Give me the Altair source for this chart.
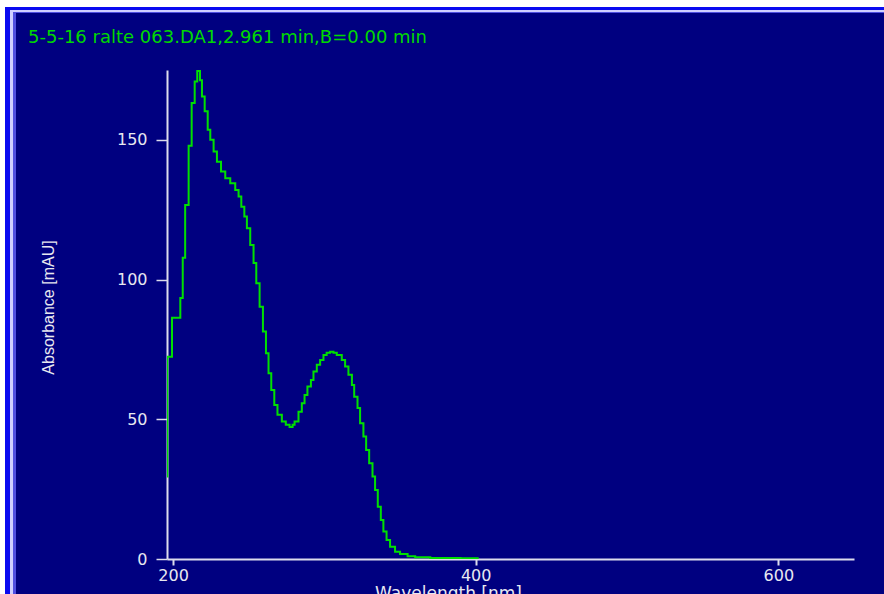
import altair as alt
import pandas as pd

# UV-Vis spectrum of the peak at 2.961 min (DAD), absorbance in mAU
wavelength_nm = [
    196.0, 196.2, 199.3, 204.8, 206.4, 208.0, 210.3, 212.3, 214.3, 216.0,
    217.8, 219.1, 220.9, 222.9, 224.6, 226.8, 229.0, 231.7, 234.5, 237.8,
    241.1, 243.3, 245.1, 247.1, 248.8, 251.0, 253.2, 255.0, 257.2, 259.4,
    261.4, 263.1, 264.9, 266.9, 269.0, 271.9, 274.5, 277.0, 279.0, 280.3,
    282.9, 285.1, 286.9, 288.8, 291.1, 292.8, 295.0, 297.2, 299.4, 301.5,
    303.8, 306.0, 308.2, 311.5, 313.7, 315.9, 318.2, 319.7, 321.9, 323.6,
    325.8, 327.6, 329.6, 331.8, 333.5, 335.3, 337.3, 339.0, 341.1, 343.4,
    346.7, 350.0, 355.0, 360.0, 370.0, 380.0, 390.0, 402.0,
]
absorbance_mau = [
    29.5, 72.4, 86.3, 93.4, 107.8, 126.7, 147.9, 163.2, 170.9, 174.6,
    171.3, 165.5, 160.2, 153.6, 150.0, 145.8, 142.2, 138.7, 136.3, 134.5,
    132.1, 129.7, 126.1, 122.6, 118.4, 112.4, 105.9, 98.7, 90.3, 81.4,
    73.6, 66.5, 60.5, 55.1, 51.6, 49.2, 48.0, 47.2, 48.0, 49.2,
    52.7, 55.7, 58.7, 61.7, 64.1, 67.1, 69.5, 71.2, 73.0, 73.8,
    74.2, 73.8, 73.0, 71.2, 68.9, 65.9, 62.3, 58.1, 54.0, 48.6,
    43.8, 39.0, 34.3, 29.5, 24.7, 18.7, 14.0, 9.8, 6.8, 4.4,
    2.6, 1.8, 1.0, 0.6, 0.4, 0.4, 0.3, 0.3,
]

x_ticks = [200, 400, 600]
y_ticks = [0, 50, 100, 150]
x_domain = [196, 650]
y_domain = [0, 175]

header = "5-5-16 ralte 063.DA1,2.961 min,B=0.00 min"

NAVY = "#000080"
AXIS = "#dcdcec"
LABEL = "#e8e8f0"
TRACE = "#00e000"

PAD_L, PAD_T, PAD_R, PAD_B = 167, 70, 30, 35
W, H = 687, 489

spectrum = pd.DataFrame({"wl": wavelength_nm, "abs": absorbance_mau})
one = pd.DataFrame({"t": [header]})

line = alt.Chart(spectrum).mark_line(
    color=TRACE, strokeWidth=2, interpolate="step-after", clip=True
).encode(
    x=alt.X(
        "wl:Q",
        scale=alt.Scale(domain=x_domain, nice=False, zero=False),
        axis=alt.Axis(
            values=x_ticks,
            grid=False,
            domainColor=AXIS,
            domainWidth=2,
            tickColor=AXIS,
            tickWidth=2,
            tickSize=6,
            labelColor=LABEL,
            labelFont="DejaVu Sans",
            labelFontSize=16,
            labelPadding=2,
            title="Wavelength [nm]",
            titleColor=LABEL,
            titleFont="DejaVu Sans",
            titleFontSize=17,
            titleFontWeight="normal",
            titleX=281,
            titleY=26,
            titleBaseline="top",
        ),
    ),
    y=alt.Y(
        "abs:Q",
        scale=alt.Scale(domain=y_domain, nice=False),
        axis=alt.Axis(
            values=y_ticks,
            grid=False,
            domainColor=AXIS,
            domainWidth=2,
            tickColor=AXIS,
            tickWidth=1.5,
            tickSize=11,
            labelColor=LABEL,
            labelFont="DejaVu Sans",
            labelFontSize=16,
            labelPadding=9,
            title="Absorbance [mAU]",
            titleColor=LABEL,
            titleFont="Liberation Sans",
            titleFontSize=16,
            titleFontWeight="normal",
            titleX=-119,
            titleY=237,
            titleBaseline="middle",
        ),
    ),
)


def band(color, x0, x1, y0, y1):
    # window frame strip, in pixels relative to the plot origin
    return alt.Chart(one).mark_rect(color=color).encode(
        x=alt.value(x0), x2=alt.value(x1), y=alt.value(y0), y2=alt.value(y1)
    )


right = W + PAD_R
bottom = H + PAD_B
frame = [
    band("#ffffff", -PAD_L, right, -PAD_T, -63),
    band("#ffffff", -PAD_L, -162, -PAD_T, bottom),
    band("#0a0af0", -162, right, -63, -60),
    band("#0a0af0", -162, -157, -63, bottom),
    band("#d0d0ff", -157, right, -60, -58),
    band("#d0d0ff", -157, -154, -60, bottom),
    band("#5050e0", -154, right, -58, -57),
    band("#5050e0", -154, -151, -58, bottom),
]

title_text = alt.Chart(one).mark_text(
    color="#00d800",
    font="DejaVu Sans",
    fontSize=18,
    align="left",
    baseline="alphabetic",
).encode(text="t:N", x=alt.value(28 - PAD_L), y=alt.value(43 - PAD_T))

chart = alt.layer(*frame, line, title_text).properties(
    width=W,
    height=H,
    background=NAVY,
    padding={"left": PAD_L, "top": PAD_T, "right": PAD_R, "bottom": PAD_B},
    autosize=alt.AutoSizeParams(type="none"),
).configure_view(stroke=None, fill=NAVY)

chart.save("out.html", embed_options={"renderer": "svg", "actions": False})
